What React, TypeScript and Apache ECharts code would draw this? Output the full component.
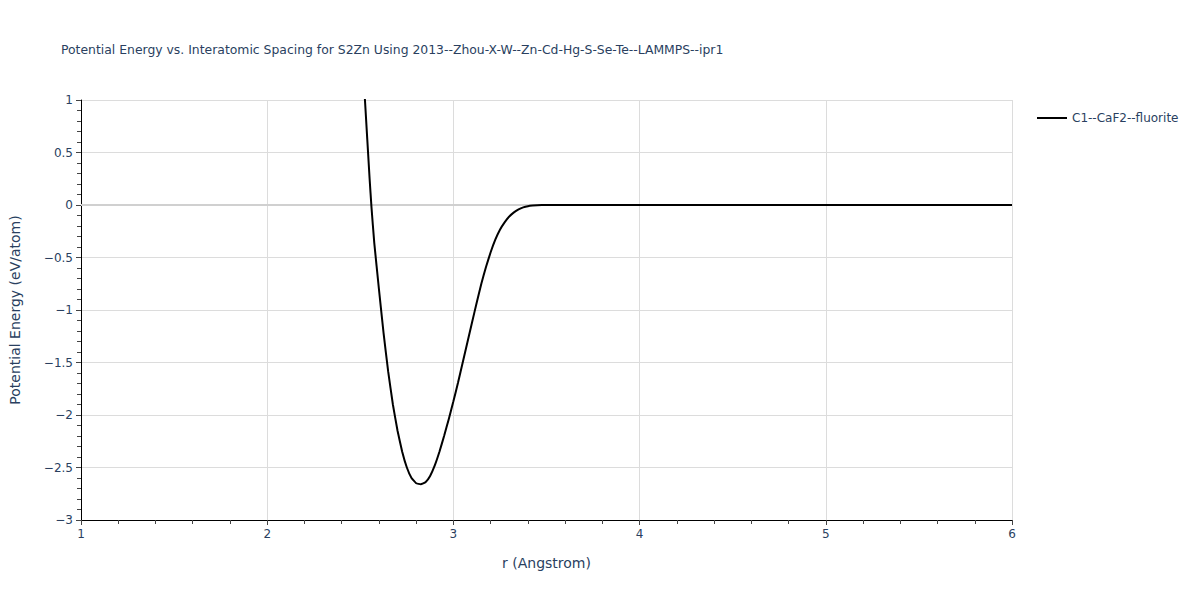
import React, { useEffect, useRef } from "react";
import * as echarts from "echarts";

const titleText = "Potential Energy vs. Interatomic Spacing for S2Zn Using 2013--Zhou-X-W--Zn-Cd-Hg-S-Se-Te--LAMMPS--ipr1";
const seriesName = "C1--CaF2--fluorite";
const rValues = [
  2.5, 2.525, 2.55, 2.56, 2.575, 2.6, 2.625, 2.65, 2.675, 2.7, 2.725, 2.75, 2.775, 2.8, 2.825,
  2.85, 2.875, 2.9, 2.925, 2.95, 2.975, 3.0, 3.025, 3.05, 3.075, 3.1, 3.125, 3.15, 3.175, 3.2,
  3.225, 3.25, 3.275, 3.3, 3.325, 3.35, 3.375, 3.4, 3.425, 3.45, 3.5, 3.6,
  3.8, 4.0, 4.5, 5.0, 5.5, 6.0,
];
const energyValues = [
  1.75, 1.0, 0.25, -0.02, -0.36, -0.8, -1.22, -1.59, -1.9, -2.15, -2.35, -2.5, -2.6, -2.65, -2.66,
  -2.64, -2.58, -2.48, -2.35, -2.2, -2.04, -1.87, -1.69, -1.5, -1.31, -1.12, -0.93, -0.75, -0.59, -0.45,
  -0.33, -0.235, -0.165, -0.11, -0.07, -0.042, -0.023, -0.011, -0.005, -0.002, -0.0005, 0,
  0, 0, 0, 0, 0, 0,
];
const zeroLine = [[1, 0], [6, 0]];

const textColor = "#2a3f5f";
const font = "DejaVu Sans, Verdana, sans-serif";
const fmt = (v: number) => String(v).replace("-", "\u2212");

export default function App() {
  const ref = useRef<HTMLDivElement>(null);
  useEffect(() => {
    const chart = echarts.init(ref.current!, null, { renderer: "svg" });
    chart.setOption({
      animation: false,
      backgroundColor: "#fff",
      textStyle: { fontFamily: font },
      title: {
        text: titleText,
        left: 56,
        top: 38,
        textStyle: { fontSize: 12.4, fontWeight: "normal", color: textColor, fontFamily: font },
      },
      legend: {
        left: 1032,
        top: 107,
        orient: "vertical",
        itemWidth: 30,
        itemHeight: 2,
        itemGap: 10,
        icon: "rect",
        data: [{ name: seriesName, itemStyle: { color: "#000" } }],
        textStyle: { fontSize: 12, color: textColor, fontFamily: font },
      },
      grid: { left: 79, right: 188, top: 100, bottom: 80, containLabel: false },
      xAxis: {
        type: "value",
        min: 1,
        max: 6,
        interval: 1,
        name: "r (Angstrom)",
        nameLocation: "middle",
        nameGap: 36,
        nameTextStyle: { fontSize: 14, color: textColor, fontFamily: font },
        axisLine: { show: true, onZero: false, lineStyle: { color: "#000", width: 1 } },
        axisTick: { show: true, inside: false, length: 5, lineStyle: { color: "#444" } },
        minorTick: { show: true, splitNumber: 5, length: 4, lineStyle: { color: "#444" } },
        axisLabel: { fontSize: 12, color: textColor, margin: 8, formatter: fmt, fontFamily: font },
        splitLine: { show: true, lineStyle: { color: "#dcdcdc", width: 1 } },
      },
      yAxis: {
        type: "value",
        min: -3,
        max: 1,
        interval: 0.5,
        name: "Potential Energy (eV/atom)",
        nameLocation: "middle",
        nameGap: 59,
        nameRotate: 90,
        nameTextStyle: { fontSize: 14, color: textColor, fontFamily: font },
        axisLine: { show: true, onZero: false, lineStyle: { color: "#000", width: 1 } },
        axisTick: { show: true, inside: false, length: 5, lineStyle: { color: "#444" } },
        minorTick: { show: true, splitNumber: 5, length: 4, lineStyle: { color: "#444" } },
        axisLabel: { fontSize: 12, color: textColor, margin: 8, formatter: fmt, fontFamily: font },
        splitLine: { show: true, lineStyle: { color: "#dcdcdc", width: 1 } },
      },
      series: [
        {
          name: "__zero",
          type: "line",
          data: zeroLine,
          symbol: "none",
          silent: true,
          z: 1,
          lineStyle: { color: "#d0d0d0", width: 2 },
        },
        {
          name: seriesName,
          type: "line",
          data: rValues.map((r, i) => [r, energyValues[i]]),
          symbol: "none",
          smooth: 0.1,
          clip: true,
          z: 3,
          lineStyle: { color: "#000", width: 2 },
          itemStyle: { color: "#000" },
        },
      ],
    });
    return () => chart.dispose();
  }, []);
  return <div ref={ref} style={{ width: 1200, height: 600, position: "absolute", left: 0, top: 0 }} />;
}
